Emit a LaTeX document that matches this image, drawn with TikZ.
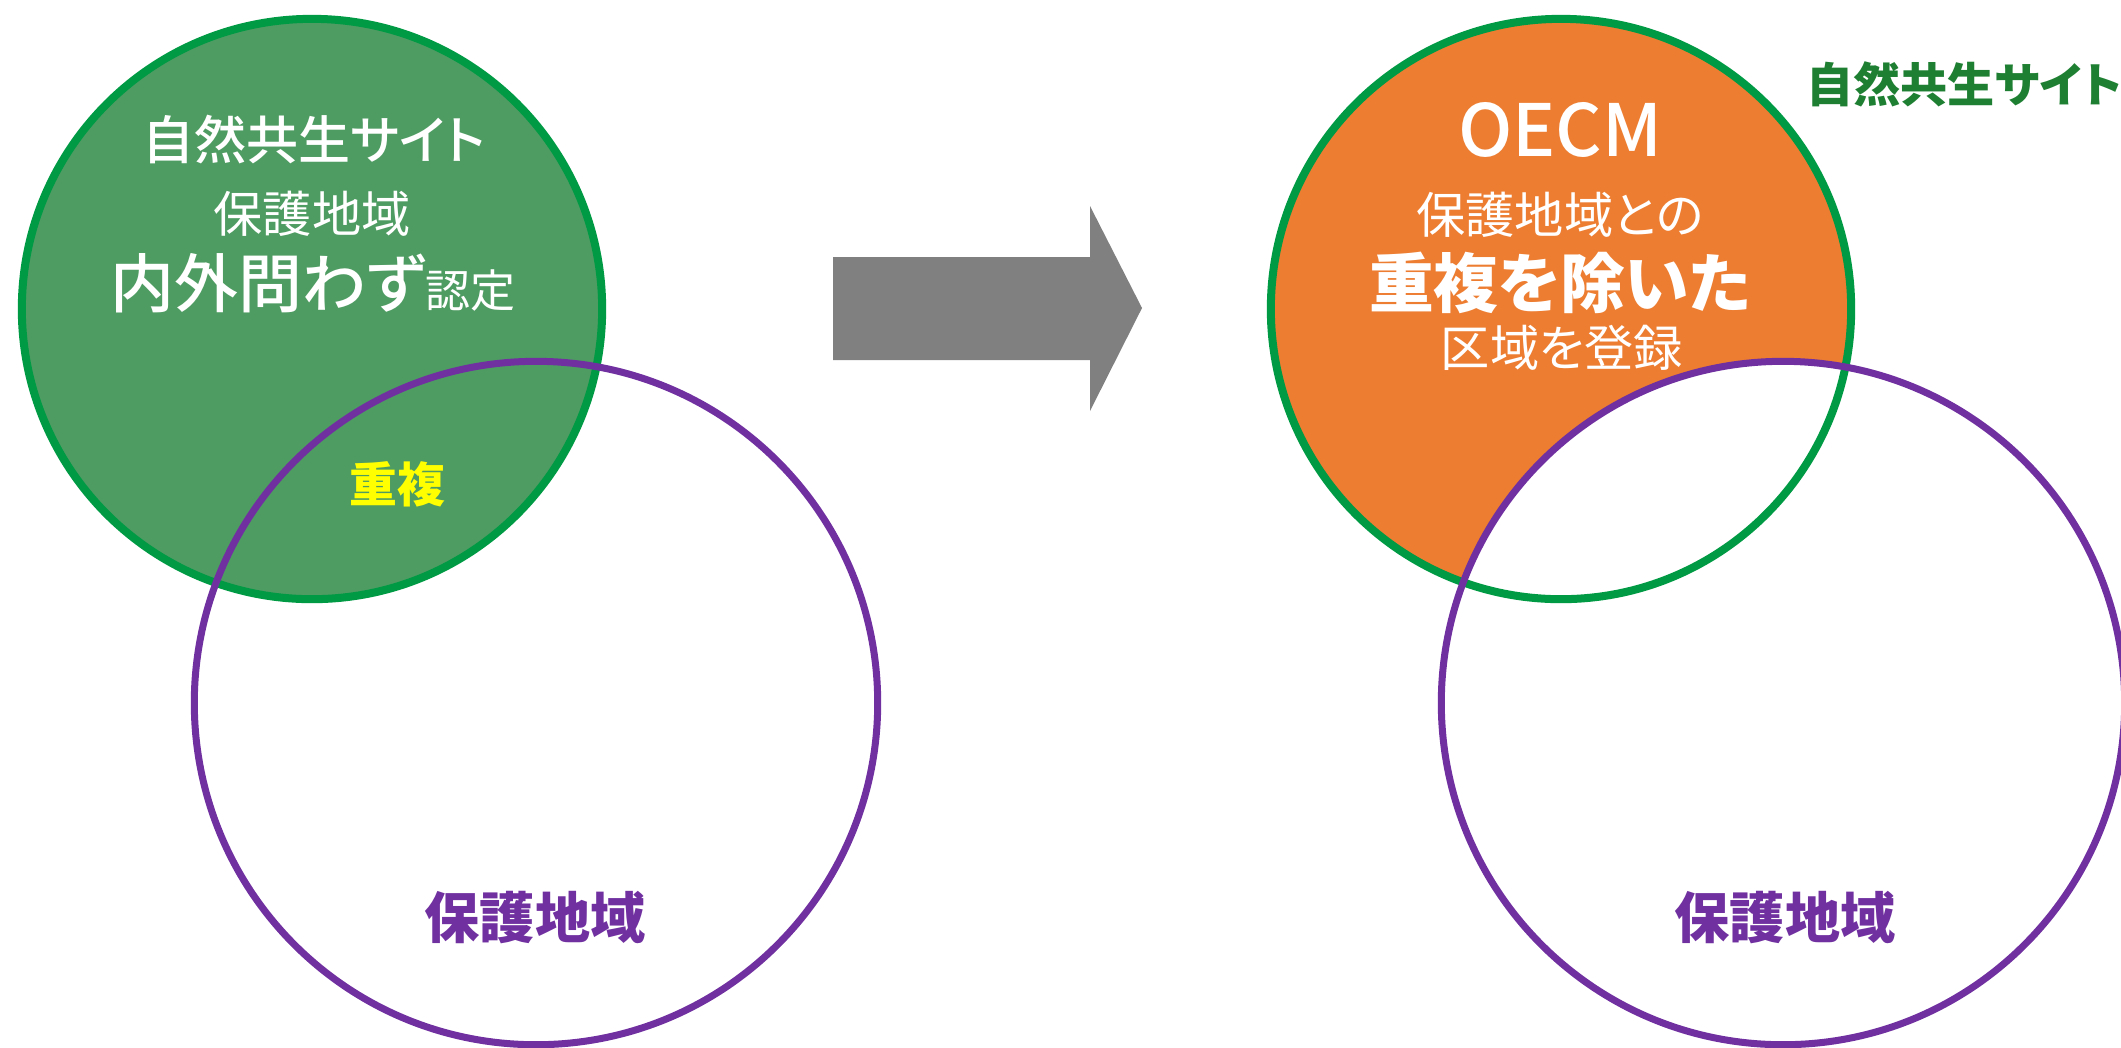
\documentclass[tikz,border=0pt]{standalone}
\usepackage{fontspec}
\newfontfamily\jp[RawFeature=+palt]{Noto Sans CJK JP}
\newfontfamily\jpm[RawFeature=+palt]{Noto Sans CJK JP Medium}
\definecolor{fillgreen}{HTML}{4E9C62}
\definecolor{ringgreen}{HTML}{009A44}
\definecolor{ringpurple}{HTML}{7030A0}
\definecolor{oecmorange}{HTML}{ED7D31}
\definecolor{arrowgray}{HTML}{808080}
\definecolor{labelgreen}{HTML}{1E7F32}
\definecolor{dupyellow}{HTML}{FFFF00}
\newcommand{\fsz}[1]{\fontsize{#1}{1.2\dimexpr#1\relax}\selectfont}
\begin{document}
\begin{tikzpicture}[x=0.01cm,y=-0.01cm,font=\jp,
  txt/.style={inner sep=0pt,anchor=center},
  greenring/.style={draw=ringgreen,line width=0.08cm},
  purplering/.style={draw=ringpurple,line width=0.07cm}]
\useasboundingbox (0,0) rectangle (2121,1047);
\begin{scope}
\clip (0,0) rectangle (2121,1047);
% left diagram
\fill[fillgreen] (312,309) circle[radius=2.90cm];
\path[greenring] (312,309) circle[radius=2.90cm];
\path[purplering] (536,703) circle[radius=3.415cm];
% arrow
\fill[arrowgray] (833,257) -- (1090,257) -- (1090,206) -- (1142,308)
  -- (1090,411) -- (1090,360) -- (833,360) -- cycle;
% right diagram
\fill[oecmorange] (1561,309) circle[radius=2.90cm];
\fill[white] (1783,703) circle[radius=3.415cm];
\path[greenring] (1561,309) circle[radius=2.90cm];
\path[purplering] (1783,703) circle[radius=3.415cm];
\end{scope}
% texts left
\node[txt,text=white,font=\jpm\fsz{14.8pt}] (lt1) at (314,139) {自然共生サイト};
\node[txt,text=white,font=\jp\fsz{14pt}] (lt2) at (312,214) {保護地域};
\node[txt,text=white,font=\jp] (lt3) at (313,283) {{\jpm\fsz{18.2pt}内外問わず}{\fsz{12.8pt}認定}};
\node[txt,text=dupyellow,font=\jp\bfseries\fsz{13.6pt}] (ldup) at (397,484) {重複};
\node[txt,text=ringpurple,font=\jp\bfseries\fsz{15.7pt}] (lpa) at (535,918) {保護地域};
% texts right
\node[txt,text=white,font=\jpm\fsz{20.5pt}] (rt1) at (1560,130) {OECM};
\node[txt,text=white,font=\jp\fsz{14pt}] (rt2) at (1560,215) {保護地域との};
\node[txt,text=white,font=\jp\bfseries\fsz{18.4pt}] (rt3) at (1560,283) {重複を除いた};
\node[txt,text=white,font=\jp\fsz{14pt}] (rt4) at (1562,348) {区域を登録};
\node[txt,text=ringpurple,font=\jp\bfseries\fsz{15.7pt}] (rpa) at (1785,918) {保護地域};
\node[txt,text=labelgreen,font=\jp\bfseries\fsz{13.4pt}] (rlab) at (1964,84) {自然共生サイト};
\end{tikzpicture}
\end{document}
